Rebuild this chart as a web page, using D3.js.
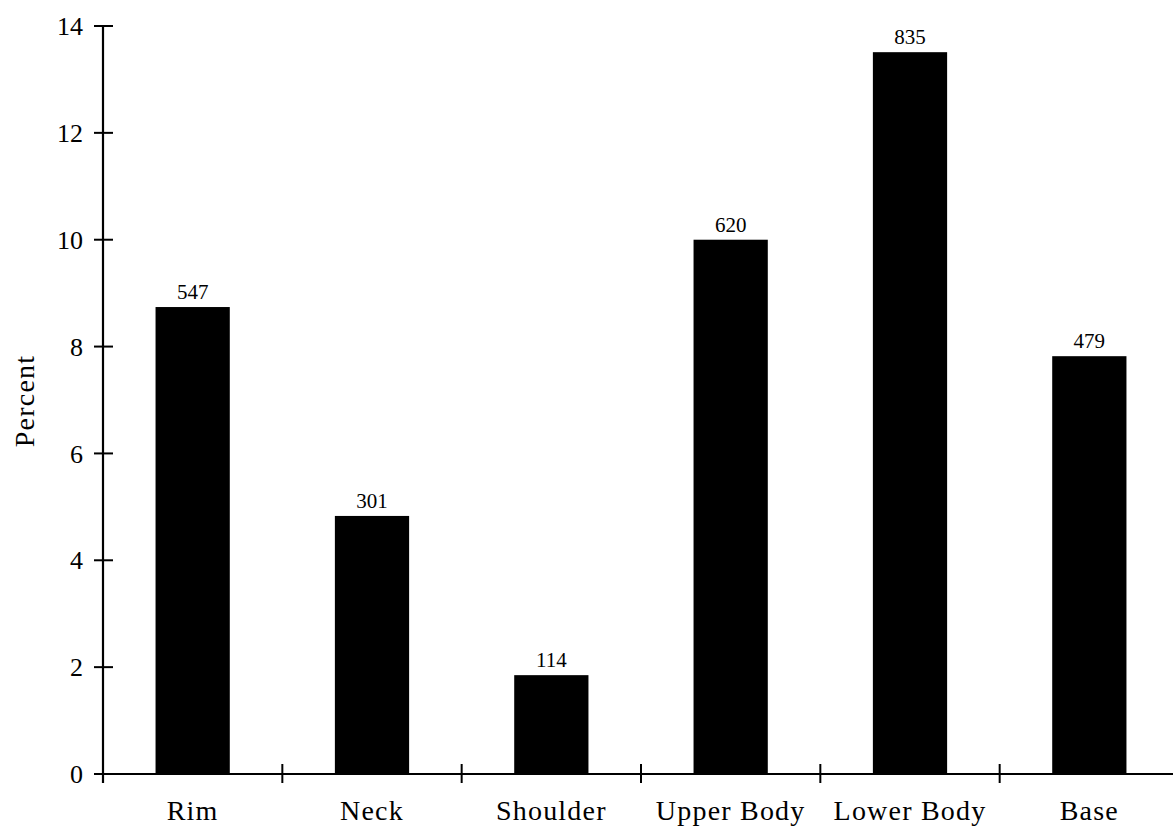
<!DOCTYPE html>
<html>
<head>
<meta charset="utf-8">
<script src="https://cdn.jsdelivr.net/npm/d3@7"></script>
<style>
  html, body { margin: 0; padding: 0; background: #fff; }
  svg { display: block; }
  text { font-family: "Liberation Serif", "Times New Roman", serif; fill: #000; }
</style>
</head>
<body>
<svg id="chart" width="1173" height="827"></svg>
<script>
// Sherd counts by vessel portion
const categories = ["Rim", "Neck", "Shoulder", "Upper Body", "Lower Body", "Base"];
const percents   = [8.74, 4.83, 1.85, 10.0, 13.51, 7.82];
const counts     = [547, 301, 114, 620, 835, 479];
const yTicks     = [0, 2, 4, 6, 8, 10, 12, 14];

const svg = d3.select("#chart");
const plotLeft = 103, plotRight = 1179, plotTop = 26, plotBottom = 774;

const x = d3.scaleBand().domain(categories).range([plotLeft, plotRight]).padding(0);
const y = d3.scaleLinear().domain([0, 14]).range([plotBottom, plotTop]);

const bw = x.bandwidth();
const barW = bw * 0.414;

// bars
svg.append("g").selectAll("rect")
  .data(categories)
  .join("rect")
  .attr("x", (d) => x(d) + (bw - barW) / 2)
  .attr("width", barW)
  .attr("y", (d, i) => y(percents[i]))
  .attr("height", (d, i) => y(0) - y(percents[i]))
  .attr("fill", "#000");

// count labels above bars
svg.append("g").selectAll("text")
  .data(categories)
  .join("text")
  .attr("x", (d) => x(d) + bw / 2)
  .attr("y", (d, i) => y(percents[i]) - 8)
  .attr("text-anchor", "middle")
  .style("font-size", "21px")
  .text((d, i) => counts[i]);

// y axis
const yAxis = svg.append("g");
yAxis.append("line")
  .attr("x1", plotLeft).attr("x2", plotLeft)
  .attr("y1", plotTop).attr("y2", plotBottom + 9)
  .attr("stroke", "#000").attr("stroke-width", 2.2);
yAxis.selectAll("line.tick")
  .data(yTicks)
  .join("line")
  .attr("class", "tick")
  .attr("x1", plotLeft - 9).attr("x2", plotLeft + 10)
  .attr("y1", (d) => y(d)).attr("y2", (d) => y(d))
  .attr("stroke", "#000").attr("stroke-width", 2);
yAxis.selectAll("text")
  .data(yTicks)
  .join("text")
  .attr("x", 83)
  .attr("y", (d) => y(d))
  .attr("dy", "0.35em")
  .attr("text-anchor", "end")
  .style("font-size", "26px")
  .text((d) => d);

// x axis
const xAxis = svg.append("g");
xAxis.append("line")
  .attr("x1", plotLeft).attr("x2", plotRight)
  .attr("y1", plotBottom).attr("y2", plotBottom)
  .attr("stroke", "#000").attr("stroke-width", 2.2);
xAxis.selectAll("line.tick")
  .data(categories.slice(1))
  .join("line")
  .attr("class", "tick")
  .attr("x1", (d) => x(d)).attr("x2", (d) => x(d))
  .attr("y1", plotBottom - 10).attr("y2", plotBottom + 9)
  .attr("stroke", "#000").attr("stroke-width", 2);
xAxis.selectAll("text")
  .data(categories)
  .join("text")
  .attr("x", (d) => x(d) + bw / 2)
  .attr("y", 820)
  .attr("text-anchor", "middle")
  .style("font-size", "28px")
  .style("letter-spacing", "1.2px")
  .text((d) => d);

// y axis title
svg.append("text")
  .attr("transform", `translate(34, ${401}) rotate(-90)`)
  .attr("text-anchor", "middle")
  .style("font-size", "28px")
  .style("letter-spacing", "1.2px")
  .text("Percent");
</script>
</body>
</html>
